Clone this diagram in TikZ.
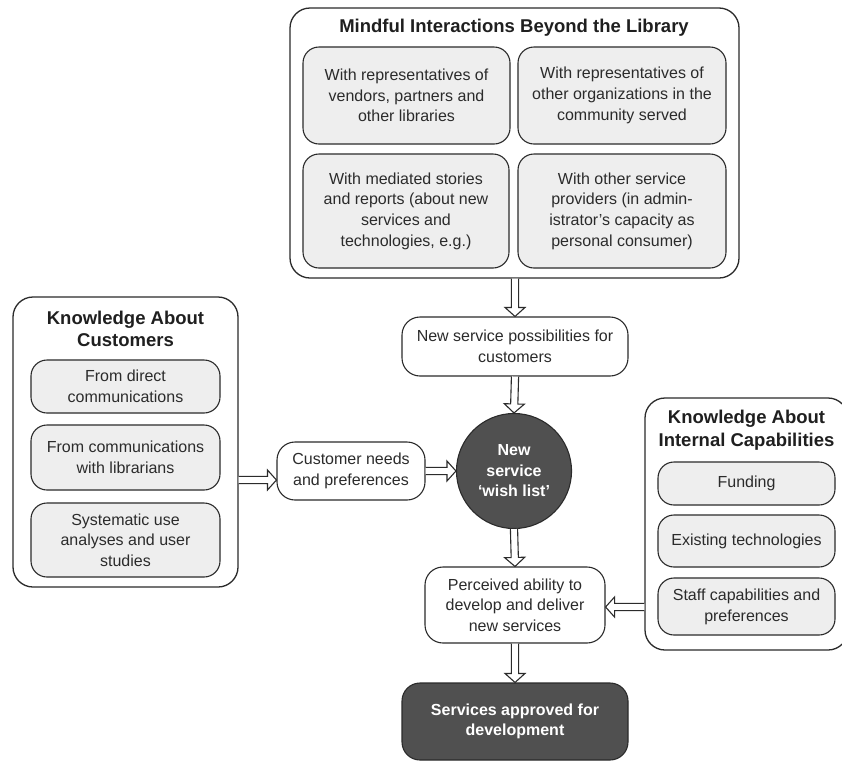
\documentclass[tikz,border=0pt]{standalone}
\usepackage{fontspec}
\setmainfont{Liberation Sans}
\usetikzlibrary{calc}
\definecolor{ink}{HTML}{2B2B2B}
\definecolor{panel}{HTML}{EEEEEE}
\definecolor{dark}{HTML}{505050}

% hollow block arrow from #1 to #2 (shaft of two lines, open triangular head)
\newcommand\blockarrow[2]{%
  \coordinate (bas) at (#1);
  \coordinate (bae) at (#2);
  \coordinate (bab) at ($(bae)!9pt!(bas)$);
  \draw[line width=1.1pt, draw=ink, fill=white, line join=miter]
    ($(bas)!3.6pt!90:(bae)$) -- ($(bab)!3.6pt!-90:(bas)$) --
    ($(bab)!10pt!-90:(bas)$) -- (bae) -- ($(bab)!10pt!90:(bas)$) --
    ($(bab)!3.6pt!90:(bas)$) -- ($(bas)!3.6pt!-90:(bae)$);
}

\tikzset{
  body/.style={font=\fontsize{16}{20.7}\selectfont, text=ink, align=center},
  head/.style={font=\fontsize{18.5}{22.5}\selectfont\bfseries, text=black!88, align=center},
  frame/.style={draw=ink, line width=1.3pt, rounded corners=20pt, inner sep=0pt},
  item/.style={body, draw=ink, line width=1.1pt, rounded corners=16pt, fill=panel, inner sep=2pt},
  flowbox/.style={body, draw=ink, line width=1.1pt, rounded corners=18pt, fill=white, inner sep=2pt},
  darkbox/.style={draw=ink, line width=1.1pt, fill=dark, text=white, align=center,
    font=\fontsize{16}{20.5}\selectfont\bfseries, inner sep=2pt},
}

\begin{document}
\begin{tikzpicture}[x=1pt, y=-1pt]
  \clip (0,0) rectangle (842,761);
  \fill[white] (0,0) rectangle (842,761);

  % ---- Mindful interactions beyond the library ----
  \node[frame, minimum width=449, minimum height=270] (beyond) at (514.5,143) {};
  \node[head] (beyondT) at (514,28) {Mindful Interactions Beyond the Library};
  \node[item, minimum width=207, minimum height=97] (b1) at (406.5,95.5)
    {With representatives of\\vendors, partners and\\other libraries};
  \node[item, minimum width=208, minimum height=97] (b2) at (622,95.5)
    {With representatives of\\other organizations in the\\community served};
  \node[item, minimum width=206, minimum height=114] (b3) at (406,211)
    {With mediated stories\\and reports (about new\\services and\\technologies, e.g.)};
  \node[item, minimum width=208, minimum height=114] (b4) at (622,211)
    {With other service\\providers (in admin-\\istrator’s capacity as\\personal consumer)};

  % ---- Knowledge about customers ----
  \node[frame, minimum width=225, minimum height=290] (cust) at (125.5,442) {};
  \node[head] (custT) at (125.5,329) {Knowledge About\\Customers};
  \node[item, minimum width=189, minimum height=53] (c1) at (125.5,386.5)
    {From direct\\communications};
  \node[item, minimum width=189, minimum height=65] (c2) at (125.5,457.5)
    {From communications\\with librarians};
  \node[item, minimum width=189, minimum height=74] (c3) at (125.5,540)
    {Systematic use\\analyses and user\\studies};

  % ---- Knowledge about internal capabilities ----
  \node[frame, minimum width=203, minimum height=252] (cap) at (746.5,524) {};
  \node[head] (capT) at (746.5,430) {Knowledge About\\Internal Capabilities};
  \node[item, minimum width=177, minimum height=43] (k1) at (746.5,483.5) {Funding};
  \node[item, minimum width=177, minimum height=52] (k2) at (746.5,541) {Existing technologies};
  \node[item, minimum width=177, minimum height=57] (k3) at (746.5,606.5)
    {Staff capabilities and\\preferences};

  % ---- central flow ----
  \node[flowbox, minimum width=226, minimum height=59] (poss) at (515,346.5)
    {New service possibilities for\\customers};
  \node[flowbox, minimum width=148, minimum height=58] (needs) at (351,471)
    {Customer needs\\and preferences};
  \node[circle, draw=ink, line width=1.1pt, fill=dark, minimum size=115, inner sep=0pt,
    text=white, align=center, font=\fontsize{16}{20.5}\selectfont\bfseries] (wish) at (514,471)
    {New\\service\\‘wish list’};
  \node[flowbox, minimum width=180, minimum height=76] (able) at (515,605)
    {Perceived ability to\\develop and deliver\\new services};
  \node[darkbox, rounded corners=18pt, minimum width=226, minimum height=77] (ok) at (515,721.5)
    {Services approved for\\development};

  % ---- connectors ----
  \coordinate (custY) at (0,480);
  \coordinate (capY) at (0,607);
  \blockarrow{beyond.south -| poss.north}{poss.north}
  \blockarrow{poss.south}{wish.north}
  \blockarrow{cust.east |- custY}{needs.west |- custY}
  \blockarrow{needs.east}{wish.west}
  \blockarrow{wish.south}{able.north}
  \blockarrow{cap.west |- capY}{able.east |- capY}
  \blockarrow{able.south}{ok.north}
\end{tikzpicture}
\end{document}
